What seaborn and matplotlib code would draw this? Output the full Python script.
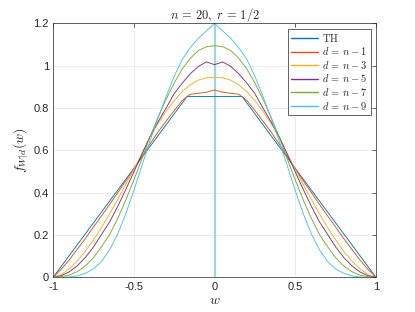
import numpy as np
import pandas as pd
import matplotlib
matplotlib.use("Agg")
import matplotlib.pyplot as plt
import seaborn as sns

sns.set_style("whitegrid")
plt.rcParams["font.family"] = ["Liberation Sans", "DejaVu Sans"]
plt.rcParams["mathtext.fontset"] = "cm"
plt.rcParams["axes.unicode_minus"] = False

# grid for the right half, curves are symmetric in w
w_half = [0.00, 0.05, 0.10, 0.15, 0.20, 0.25, 0.30, 0.35, 0.40, 0.45, 0.50,
          0.55, 0.60, 0.65, 0.70, 0.75, 0.80, 0.85, 0.90, 0.95, 1.00]

# theoretical curve (flat top then linear)
th_w = [-1.0, -0.17, 0.17, 1.0]
th_f = [0.0, 0.855, 0.855, 0.0]

f_n1 = [0.885, 0.875, 0.870, 0.865, 0.836, 0.788, 0.738, 0.687, 0.630, 0.572, 0.512,
        0.455, 0.400, 0.345, 0.291, 0.238, 0.184, 0.133, 0.083, 0.038, 0.0]
f_n3 = [0.945, 0.943, 0.932, 0.910, 0.878, 0.835, 0.785, 0.727, 0.663, 0.585, 0.510,
        0.438, 0.368, 0.300, 0.236, 0.177, 0.124, 0.078, 0.041, 0.013, 0.0]
f_n5 = [1.005, 1.018, 0.997, 0.962, 0.918, 0.868, 0.800, 0.735, 0.665, 0.582, 0.498,
        0.415, 0.335, 0.262, 0.203, 0.144, 0.094, 0.055, 0.026, 0.008, 0.0]
f_n7 = [1.095, 1.090, 1.072, 1.035, 0.985, 0.918, 0.842, 0.757, 0.664, 0.560, 0.460,
        0.365, 0.278, 0.202, 0.145, 0.093, 0.054, 0.027, 0.011, 0.003, 0.0]
f_n9 = [1.200, 1.165, 1.130, 1.085, 1.030, 0.950, 0.855, 0.752, 0.645, 0.528, 0.410,
        0.300, 0.205, 0.130, 0.075, 0.040, 0.019, 0.007, 0.002, 0.0, 0.0]

labels = [r"$\mathrm{TH}$", r"$d\,=\,n-1$", r"$d\,=\,n-3$", r"$d\,=\,n-5$",
          r"$d\,=\,n-7$", r"$d\,=\,n-9$"]
colors = ["#0072BD", "#D95319", "#EDB120", "#7E2F8E", "#77AC30", "#4DBEEE"]


def mirror(v):
    v = np.asarray(v, dtype=float)
    return np.concatenate([v[:0:-1], v])


w_full = np.concatenate([-np.asarray(w_half)[:0:-1], np.asarray(w_half)])

# long table for seaborn
frames = [pd.DataFrame({"w": th_w, "f": th_f, "series": labels[0]})]
for vals, lab in zip([f_n1, f_n3, f_n5, f_n7, f_n9], labels[1:]):
    frames.append(pd.DataFrame({"w": w_full, "f": mirror(vals), "series": lab}))
df = pd.concat(frames, ignore_index=True)

fig = plt.figure(figsize=(4.15, 3.12), dpi=100)
ax = fig.add_axes([0.128, 0.111, 0.778, 0.814])

sns.lineplot(data=df, x="w", y="f", hue="series", hue_order=labels,
             palette=dict(zip(labels, colors)), sort=False, estimator=None,
             lw=0.65, ax=ax)

# spike at w = 0
ax.axvline(0, color="#a3d6dc", lw=1.6, zorder=1)

ax.set_xlim(-1, 1)
ax.set_ylim(0, 1.2)
ax.set_xticks([-1, -0.5, 0, 0.5, 1])
ax.set_xticklabels(["-1", "-0.5", "0", "0.5", "1"])
ax.set_yticks([0, 0.2, 0.4, 0.6, 0.8, 1.0, 1.2])
ax.set_yticklabels(["0", "0.2", "0.4", "0.6", "0.8", "1", "1.2"])
ax.tick_params(direction="in", length=3, width=0.5, labelsize=8, colors="#262626",
               top=True, right=True, pad=3)
ax.grid(True, color="#e8e8e8", lw=0.6)
for s in ax.spines.values():
    s.set_color("#262626")
    s.set_linewidth(0.5)

ax.set_title(r"$n\,=\,20,\;r\,=\,1/2$", fontsize=9, pad=3)
ax.set_xlabel(r"$w$", fontsize=10, labelpad=1)
ax.set_ylabel(r"$f_{W|d}(w)$", fontsize=10, labelpad=2)

leg = ax.legend(loc="upper right", fontsize=7.5, frameon=True, fancybox=False,
                handlelength=2.6, borderpad=0.3, labelspacing=0.15,
                borderaxespad=0.5, handletextpad=0.4)
leg.get_frame().set_edgecolor("#262626")
leg.get_frame().set_linewidth(0.5)
leg.get_frame().set_alpha(1)
for h in leg.get_lines():
    h.set_linewidth(1.0)

fig.savefig("out.png", dpi=100)
